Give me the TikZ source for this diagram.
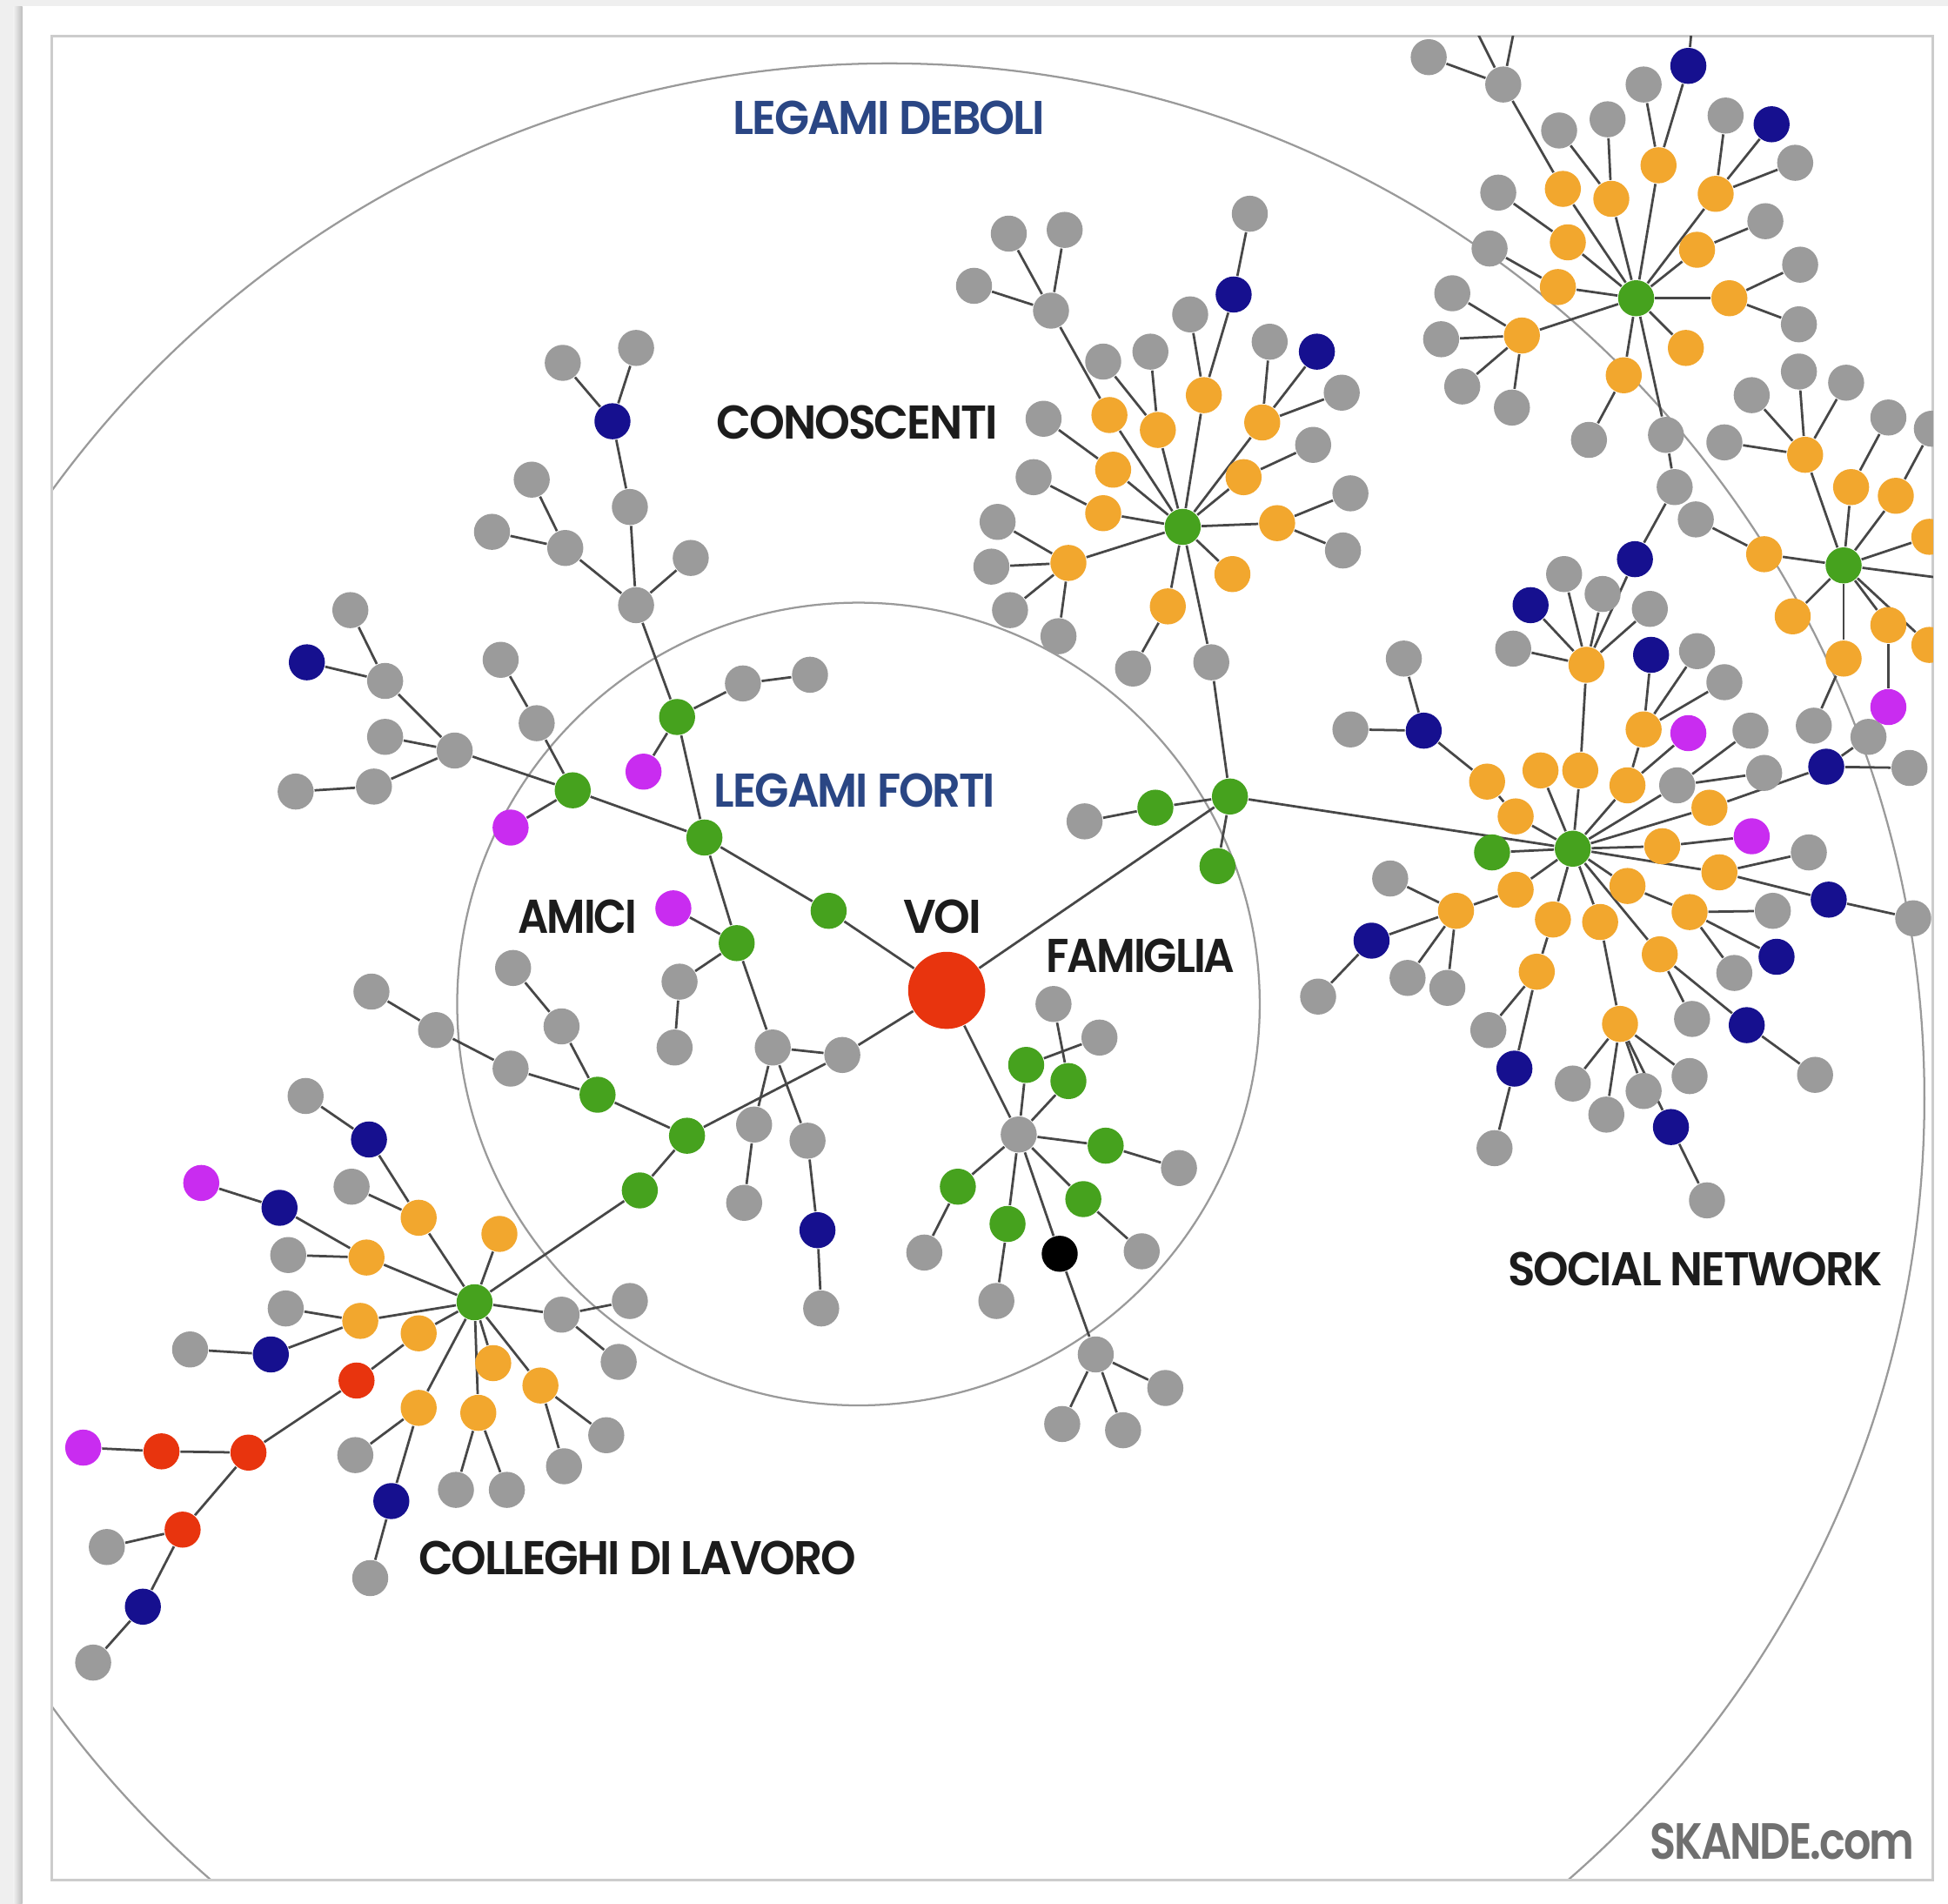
\documentclass[tikz,border=0pt]{standalone}
\usepackage{fontspec}
\usepackage{graphicx}
\newfontfamily\poppins{Poppins}[UprightFont=* SemiBold, LetterSpace=-4]
\pgfdeclarelayer{page}
\pgfdeclarelayer{edges}
\pgfsetlayers{page,edges,main}
\definecolor{cBg}{HTML}{EFEFEF}
\definecolor{cShadow}{HTML}{BDBDBD}
\definecolor{cFrame}{HTML}{CCCCCC}
\definecolor{cRing}{HTML}{9A9A9A}
\definecolor{cEdge}{HTML}{474747}
\definecolor{cGray}{HTML}{9B9B9B}
\definecolor{cGreen}{HTML}{46A21E}
\definecolor{cOrange}{HTML}{F2A72E}
\definecolor{cBlue}{HTML}{16108F}
\definecolor{cPurple}{HTML}{C92CF0}
\definecolor{cRed}{HTML}{E8340E}
\definecolor{cTitle}{HTML}{2A4684}
\definecolor{cText}{HTML}{1C1C1C}
\definecolor{cSig}{HTML}{707070}
\tikzset{
  dot/.style={circle, inner sep=0pt, minimum size=0.29cm},
  sGray/.style={dot, fill=cGray},
  sGreen/.style={dot, fill=cGreen},
  sOrange/.style={dot, fill=cOrange},
  sBlue/.style={dot, fill=cBlue},
  sPurple/.style={dot, fill=cPurple},
  sRed/.style={dot, fill=cRed},
  sBlack/.style={dot, fill=black},
  link/.style={draw=cEdge, line width=0.55pt},
  ring/.style={draw=cRing, line width=0.45pt},
  lbl/.style={inner sep=0pt},
}
\begin{document}
\begin{tikzpicture}[x=0.01cm,y=-0.01cm]
\useasboundingbox (0,0) rectangle (1568,1532);
\begin{pgfonlayer}{page}
  \fill[cBg] (0,0) rectangle (1568,1532);
  \fill[white] (18,5) rectangle (1568,1532);
  \shade[left color=cBg, right color=cShadow] (11,5) rectangle (18,1532);
  \begin{scope}
    \clip (42,29) rectangle (1556,1513);
    \draw[ring] (716,884) circle (833);
    \draw[ring] (691,808) circle (323);
  \end{scope}
  \draw[cFrame, line width=0.6pt] (42,29) rectangle (1556,1513);
\end{pgfonlayer}

\begin{scope}
\clip (42,29) rectangle (1556,1513);
% ---------------- VOI and friends ----------------
\node[sRed, minimum size=0.62cm] (voi) at (762,797) {};
\node[sGreen] (f1) at (667,733) {};
\node[sGreen] (f2) at (567,674) {};
\node[sGreen] (f3) at (461,636) {};
\node[sGreen] (f4) at (545,577) {};
\node[sGreen] (f5) at (593,759) {};
\node[sPurple] (p1) at (411,666) {};
\node[sGray] (a1) at (432,582) {};
\node[sGray] (a2) at (403,531) {};
\node[sGray] (h1) at (366,604) {};
\node[sGray] (h2) at (310,548) {};
\node[sBlue] (h3) at (247,533) {};
\node[sGray] (h4) at (282,491) {};
\node[sGray] (h5) at (310,593) {};
\node[sGray] (h6) at (301,633) {};
\node[sGray] (h7) at (238,637) {};
\node[sGray] (u1) at (512,487) {};
\node[sPurple] (p2) at (518,621) {};
\node[sGray] (u2) at (598,550) {};
\node[sGray] (u3) at (652,543) {};
\node[sGray] (u4) at (556,449) {};
\node[sGray] (u5) at (455,441) {};
\node[sGray] (u6) at (396,428) {};
\node[sGray] (u7) at (428,386) {};
\node[sGray] (u8) at (507,408) {};
\node[sBlue] (u9) at (493,339) {};
\node[sGray] (u10) at (453,292) {};
\node[sGray] (u11) at (512,280) {};
\node[sPurple] (p3) at (542,731) {};
\node[sGray] (w1) at (547,790) {};
\node[sGray] (w2) at (543,843) {};
\node[sGray] (w3) at (622,843) {};
\node[sGray] (w4) at (607,905) {};
\node[sGray] (w5) at (599,968) {};
\node[sGray] (w6) at (650,918) {};
\node[sBlue] (w7) at (658,990) {};
\node[sGray] (w8) at (661,1053) {};
\node[sGray] (x0) at (678,849) {};
\node[sGreen] (x1) at (553,914) {};
\node[sGreen] (x2) at (515,958) {};
\node[sGreen] (x3) at (481,881) {};
\node[sGray] (x4) at (452,826) {};
\node[sGray] (x5) at (413,779) {};
\node[sGray] (x6) at (411,860) {};
\node[sGray] (x7) at (351,829) {};
\node[sGray] (x8) at (299,798) {};
% ---------------- colleagues ----------------
\node[sGreen] (cH) at (382,1048) {};
\node[sOrange] (c1) at (337,980) {};
\node[sBlue] (c1a) at (297,917) {};
\node[sGray] (c1b) at (246,882) {};
\node[sGray] (c1c) at (283,955) {};
\node[sOrange] (c2) at (402,993) {};
\node[sOrange] (c3) at (295,1012) {};
\node[sBlue] (c3a) at (225,972) {};
\node[sPurple] (c3b) at (162,952) {};
\node[sGray] (c3c) at (232,1010) {};
\node[sOrange] (c4) at (290,1063) {};
\node[sGray] (c4a) at (230,1053) {};
\node[sBlue] (c4b) at (218,1090) {};
\node[sGray] (c4c) at (153,1086) {};
\node[sOrange] (c5) at (337,1073) {};
\node[sRed] (r1) at (287,1111) {};
\node[sRed] (r2) at (200,1169) {};
\node[sRed] (r3) at (130,1168) {};
\node[sPurple] (r4) at (67,1165) {};
\node[sRed] (r5) at (147,1231) {};
\node[sGray] (r6) at (86,1245) {};
\node[sBlue] (r7) at (115,1293) {};
\node[sGray] (r8) at (75,1338) {};
\node[sOrange] (c6) at (397,1097) {};
\node[sOrange] (c7) at (337,1133) {};
\node[sGray] (c7a) at (286,1171) {};
\node[sBlue] (c7b) at (315,1208) {};
\node[sGray] (c7c) at (298,1270) {};
\node[sOrange] (c8) at (385,1137) {};
\node[sGray] (c8a) at (367,1199) {};
\node[sGray] (c8b) at (408,1199) {};
\node[sOrange] (c9) at (435,1115) {};
\node[sGray] (c9a) at (488,1155) {};
\node[sGray] (c9b) at (454,1180) {};
\node[sGray] (c10) at (452,1058) {};
\node[sGray] (c10a) at (507,1047) {};
\node[sGray] (c10b) at (498,1096) {};
% ---------------- family ----------------
\node[sGray] (fH) at (820,913) {};
\node[sGreen] (fa) at (826,857) {};
\node[sGray] (fa1) at (885,835) {};
\node[sGreen] (fb) at (860,870) {};
\node[sGray] (fb1) at (848,808) {};
\node[sGreen] (fc) at (890,922) {};
\node[sGray] (fc1) at (949,940) {};
\node[sGreen] (fd) at (771,955) {};
\node[sGray] (fd1) at (744,1008) {};
\node[sGreen] (fe) at (811,985) {};
\node[sGray] (fe1) at (802,1047) {};
\node[sGreen] (ff) at (872,965) {};
\node[sGray] (ff1) at (919,1007) {};
\node[sBlack] (fg) at (853,1009) {};
\node[sGray] (fg1) at (882,1090) {};
\node[sGray] (fg2) at (938,1117) {};
\node[sGray] (fg3) at (855,1146) {};
\node[sGray] (fg4) at (904,1151) {};
% ---------------- junction ----------------
\node[sGreen] (jH) at (990,641) {};
\node[sGreen] (j1) at (930,650) {};
\node[sGray] (j2) at (873,661) {};
\node[sGreen] (j3) at (980,697) {};
\node[sGray] (j4) at (975,533) {};
% ---------------- acquaintances ----------------
\node[sGreen] (kH) at (952,424) {};
\node[sOrange] (k1) at (893,334) {};
\node[sGray] (k1h) at (846,250) {};
\node[sGray] (k1a) at (812,188) {};
\node[sGray] (k1b) at (857,185) {};
\node[sGray] (k1c) at (784,230) {};
\node[sOrange] (k2) at (932,346) {};
\node[sGray] (k2a) at (888,291) {};
\node[sGray] (k2b) at (926,283) {};
\node[sOrange] (k3) at (969,318) {};
\node[sBlue] (k3a) at (993,237) {};
\node[sGray] (k3b) at (1006,172) {};
\node[sGray] (k3c) at (958,253) {};
\node[sOrange] (k4) at (1016,340) {};
\node[sGray] (k4a) at (1022,275) {};
\node[sBlue] (k4b) at (1060,283) {};
\node[sGray] (k4c) at (1080,316) {};
\node[sOrange] (k5) at (896,378) {};
\node[sGray] (k5a) at (840,337) {};
\node[sOrange] (k6) at (888,413) {};
\node[sGray] (k6a) at (832,384) {};
\node[sOrange] (k7) at (860,453) {};
\node[sGray] (k7a) at (803,420) {};
\node[sGray] (k7b) at (798,456) {};
\node[sGray] (k7c) at (813,491) {};
\node[sGray] (k7d) at (852,512) {};
\node[sOrange] (k8) at (940,488) {};
\node[sGray] (k8a) at (912,538) {};
\node[sOrange] (k9) at (1001,384) {};
\node[sGray] (k9a) at (1057,358) {};
\node[sOrange] (k10) at (1028,421) {};
\node[sGray] (k10a) at (1087,397) {};
\node[sGray] (k10b) at (1081,443) {};
\node[sOrange] (k11) at (992,462) {};
% ---------------- top right cluster ----------------
\node[sGreen] (tH) at (1317,240) {};
\node[sOrange] (q1) at (1258,152) {};
\node[sGray] (q1a) at (1210,68) {};
\node[sGray] (q1b) at (1150,46) {};
\node[sOrange] (q2) at (1297,160) {};
\node[sGray] (q2a) at (1255,105) {};
\node[sGray] (q2b) at (1294,96) {};
\node[sOrange] (q3) at (1335,133) {};
\node[sGray] (q3a) at (1323,68) {};
\node[sBlue] (q3b) at (1359,53) {};
\node[sOrange] (q4) at (1381,156) {};
\node[sGray] (q4a) at (1389,93) {};
\node[sBlue] (q4b) at (1426,100) {};
\node[sGray] (q4c) at (1445,131) {};
\node[sOrange] (q5) at (1262,195) {};
\node[sGray] (q5a) at (1206,155) {};
\node[sOrange] (q6) at (1366,201) {};
\node[sGray] (q6a) at (1421,178) {};
\node[sOrange] (q7) at (1254,231) {};
\node[sGray] (q7a) at (1199,200) {};
\node[sOrange] (q8) at (1392,240) {};
\node[sGray] (q8a) at (1449,213) {};
\node[sGray] (q8b) at (1448,261) {};
\node[sOrange] (q9) at (1225,270) {};
\node[sGray] (q9a) at (1169,236) {};
\node[sGray] (q9b) at (1160,273) {};
\node[sGray] (q9c) at (1177,311) {};
\node[sGray] (q9d) at (1217,328) {};
\node[sOrange] (q10) at (1357,280) {};
\node[sOrange] (q11) at (1307,302) {};
\node[sGray] (q11a) at (1279,354) {};
\node[sGray] (tg1) at (1341,350) {};
\node[sGray] (tg2) at (1348,392) {};
\node[sBlue] (tb) at (1316,450) {};
\coordinate (up1) at (1180,8);
\coordinate (up2) at (1222,8);
\coordinate (up3) at (1363,8);
% ---------------- right cluster ----------------
\node[sGreen] (rH) at (1484,455) {};
\node[sOrange] (ra) at (1453,366) {};
\node[sGray] (ra1) at (1410,318) {};
\node[sGray] (ra2) at (1448,299) {};
\node[sGray] (ra3) at (1486,308) {};
\node[sGray] (ra4) at (1388,356) {};
\node[sOrange] (rb) at (1490,392) {};
\node[sGray] (rb1) at (1520,336) {};
\node[sOrange] (rc) at (1526,399) {};
\node[sGray] (rc1) at (1555,345) {};
\node[sOrange] (rd) at (1553,432) {};
\node[sOrange] (re) at (1420,446) {};
\node[sGray] (re1) at (1365,418) {};
\node[sOrange] (rf) at (1443,496) {};
\node[sOrange] (rg) at (1484,530) {};
\node[sGray] (rg1) at (1460,584) {};
\node[sOrange] (rh) at (1520,503) {};
\node[sOrange] (ri) at (1553,519) {};
\coordinate (rout) at (1600,470);
% ---------------- social network cluster ----------------
\node[sGreen] (sH) at (1266,683) {};
\node[sOrange] (s1) at (1277,535) {};
\node[sGray] (sg1) at (1218,522) {};
\node[sBlue] (sb1) at (1232,487) {};
\node[sGray] (sg2) at (1259,462) {};
\node[sGray] (sg3) at (1290,478) {};
\node[sGray] (sg4) at (1328,490) {};
\node[sOrange] (s2) at (1272,620) {};
\node[sOrange] (s3) at (1240,620) {};
\node[sOrange] (s4) at (1220,657) {};
\node[sOrange] (s5) at (1197,629) {};
\node[sBlue] (s5b) at (1146,588) {};
\node[sGray] (s5c) at (1087,587) {};
\node[sGray] (s5d) at (1130,530) {};
\node[sGreen] (s6) at (1201,686) {};
\node[sOrange] (s7) at (1310,632) {};
\node[sOrange] (s8) at (1323,587) {};
\node[sBlue] (s8a) at (1329,527) {};
\node[sGray] (s8b) at (1366,524) {};
\node[sGray] (s8c) at (1388,549) {};
\node[sPurple] (s9) at (1359,590) {};
\node[sGray] (s10) at (1350,632) {};
\node[sGray] (s10a) at (1409,588) {};
\node[sGray] (s10b) at (1420,622) {};
\node[sOrange] (s11) at (1376,650) {};
\node[sBlue] (s11a) at (1470,617) {};
\node[sGray] (s11b) at (1537,618) {};
\node[sGray] (s11c) at (1504,593) {};
\node[sPurple] (rh1) at (1520,569) {};
\node[sOrange] (s12) at (1338,681) {};
\node[sPurple] (s12a) at (1410,673) {};
\node[sOrange] (s13) at (1384,702) {};
\node[sGray] (s13a) at (1456,686) {};
\node[sBlue] (s13b) at (1472,724) {};
\node[sGray] (s13c) at (1540,739) {};
\node[sOrange] (s14) at (1310,713) {};
\node[sOrange] (s15) at (1360,734) {};
\node[sGray] (s15a) at (1427,733) {};
\node[sBlue] (s15b) at (1430,770) {};
\node[sGray] (s15c) at (1396,783) {};
\node[sOrange] (s16) at (1336,768) {};
\node[sGray] (s16a) at (1362,820) {};
\node[sBlue] (s16b) at (1406,825) {};
\node[sGray] (s16c) at (1461,865) {};
\node[sOrange] (s17) at (1288,742) {};
\node[sOrange] (s18) at (1304,824) {};
\node[sGray] (s18a) at (1266,872) {};
\node[sGray] (s18b) at (1293,897) {};
\node[sGray] (s18c) at (1323,878) {};
\node[sGray] (s18d) at (1360,866) {};
\node[sBlue] (s18e) at (1345,907) {};
\node[sGray] (s18f) at (1374,966) {};
\node[sOrange] (s19) at (1250,740) {};
\node[sOrange] (s20) at (1237,782) {};
\node[sGray] (s20a) at (1198,829) {};
\node[sBlue] (s20b) at (1219,860) {};
\node[sGray] (s20c) at (1203,924) {};
\node[sOrange] (s21) at (1220,716) {};
\node[sOrange] (s22) at (1172,733) {};
\node[sGray] (s22a) at (1119,707) {};
\node[sBlue] (s22b) at (1104,757) {};
\node[sGray] (s22c) at (1061,802) {};
\node[sGray] (s22d) at (1133,787) {};
\node[sGray] (s22e) at (1165,795) {};
\end{scope}

\begin{pgfonlayer}{edges}
\begin{scope}
\clip (42,29) rectangle (1556,1513);
\foreach \a/\b in {voi/f1, f1/f2, f2/f3, f2/f4, f2/f5, f3/p1, f3/a1, a1/a2, f3/h1,
  h1/h2, h2/h3, h2/h4, h1/h5, h1/h6, h6/h7, f4/u1, f4/p2, f4/u2, u2/u3, u1/u4,
  u1/u5, u5/u6, u5/u7, u1/u8, u8/u9, u9/u10, u9/u11, f5/p3, f5/w1, w1/w2, f5/w3,
  w3/w4, w4/w5, w3/w6, w6/w7, w7/w8, w3/x0, voi/x0, x0/x1, x1/x2, x2/cH, x1/x3,
  x3/x4, x4/x5, x3/x6, x6/x7, x7/x8}
  \draw[link] (\a) -- (\b);
\foreach \a/\b in {cH/c1, c1/c1a, c1a/c1b, c1/c1c, cH/c2, cH/c3, c3/c3a, c3a/c3b,
  c3/c3c, cH/c4, c4/c4a, c4/c4b, c4b/c4c, cH/c5, c5/r1, r1/r2, r2/r3, r3/r4, r2/r5,
  r5/r6, r5/r7, r7/r8, cH/c6, cH/c7, c7/c7a, c7/c7b, c7b/c7c, cH/c8, c8/c8a, c8/c8b,
  cH/c9, c9/c9a, c9/c9b, cH/c10, c10/c10a, c10/c10b}
  \draw[link] (\a) -- (\b);
\foreach \a/\b in {voi/fH, fH/fa, fa/fa1, fH/fb, fb/fb1, fH/fc, fc/fc1, fH/fd, fd/fd1,
  fH/fe, fe/fe1, fH/ff, ff/ff1, fH/fg, fg/fg1, fg1/fg2, fg1/fg3, fg1/fg4,
  voi/jH, jH/j1, j1/j2, jH/j3, jH/j4, j4/kH, jH/sH}
  \draw[link] (\a) -- (\b);
\foreach \a/\b in {kH/k1, k1/k1h, k1h/k1a, k1h/k1b, k1h/k1c, kH/k2, k2/k2a, k2/k2b,
  kH/k3, k3/k3a, k3a/k3b, k3/k3c, kH/k4, k4/k4a, k4/k4b, k4/k4c, kH/k5, k5/k5a,
  kH/k6, k6/k6a, kH/k7, k7/k7a, k7/k7b, k7/k7c, k7/k7d, kH/k8, k8/k8a, kH/k9, k9/k9a,
  kH/k10, k10/k10a, k10/k10b, kH/k11}
  \draw[link] (\a) -- (\b);
\foreach \a/\b in {tH/q1, q1/q1a, q1a/q1b, q1a/up1, q1a/up2, tH/q2, q2/q2a, q2/q2b,
  tH/q3, q3/q3a, q3/q3b, q3b/up3, tH/q4, q4/q4a, q4/q4b, q4/q4c, tH/q5, q5/q5a,
  tH/q6, q6/q6a, tH/q7, q7/q7a, tH/q8, q8/q8a, q8/q8b, tH/q9, q9/q9a, q9/q9b,
  q9/q9c, q9/q9d, tH/q10, tH/q11, q11/q11a, tH/tg1, tg1/tg2, tg2/tb, tb/s1}
  \draw[link] (\a) -- (\b);
\foreach \a/\b in {rH/ra, ra/ra1, ra/ra2, ra/ra3, ra/ra4, rH/rb, rb/rb1, rH/rc, rc/rc1,
  rH/rd, rH/re, re/re1, rH/rf, rH/rg, rg/rg1, rH/rh, rh/rh1, rH/ri, rH/rout}
  \draw[link] (\a) -- (\b);
\foreach \a/\b in {sH/s2, s2/s1, s1/sg1, s1/sb1, s1/sg2, s1/sg3, s1/sg4, sH/s3,
  sH/s4, s4/s5, s5/s5b, s5b/s5c, s5b/s5d, sH/s6, sH/s7, s7/s8, s8/s8a, s8/s8b,
  s8/s8c, s7/s9, sH/s10, s10/s10a, s10/s10b, sH/s11, s11/s11a, s11a/s11b,
  s11a/s11c, sH/s12, s12/s12a, sH/s13, s13/s13a, s13/s13b, s13b/s13c, sH/s14,
  s14/s15, s15/s15a, s15/s15b, s15/s15c, sH/s16, s16/s16a, s16/s16b, s16b/s16c,
  sH/s17, s17/s18, s18/s18a, s18/s18b, s18/s18c, s18/s18d, s18/s18e, s18e/s18f,
  sH/s19, s19/s20, s20/s20a, s20/s20b, s20b/s20c, sH/s21, s21/s22, s22/s22a,
  s22/s22b, s22b/s22c, s22/s22d, s22/s22e}
  \draw[link] (\a) -- (\b);
\end{scope}
\end{pgfonlayer}

% ---------------- labels ----------------
\node[lbl, text=cTitle] (lDeb) at (715.5,95) {\resizebox{2.51cm}{0.27cm}{\poppins LEGAMI DEBOLI}};
\node[lbl, text=cText] (lCon) at (690,340) {\resizebox{2.26cm}{0.27cm}{\poppins CONOSCENTI}};
\node[lbl, text=cTitle] (lFor) at (688,636) {\resizebox{2.26cm}{0.27cm}{\poppins LEGAMI FORTI}};
\node[lbl, text=cText] (lAmi) at (465,738) {\resizebox{0.96cm}{0.27cm}{\poppins AMICI}};
\node[lbl, text=cText] (lVoi) at (758.5,738) {\resizebox{0.63cm}{0.27cm}{\poppins VOI}};
\node[lbl, text=cText] (lFam) at (918,769) {\resizebox{1.52cm}{0.27cm}{\poppins FAMIGLIA}};
\node[lbl, text=cText] (lSoc) at (1364.5,1021) {\resizebox{3.01cm}{0.27cm}{\poppins SOCIAL NETWORK}};
\node[lbl, text=cText] (lCol) at (513,1254) {\resizebox{3.52cm}{0.27cm}{\poppins COLLEGHI DI LAVORO}};
\node[lbl, text=cSig] (lSka) at (1434.5,1482) {\resizebox{2.13cm}{0.29cm}{\poppins SKANDE.com}};
\end{tikzpicture}
\end{document}
